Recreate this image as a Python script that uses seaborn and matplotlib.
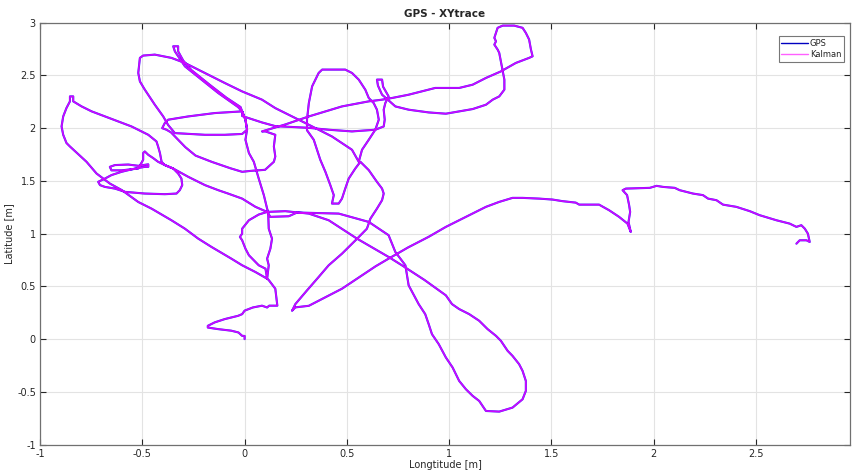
import numpy as np
import pandas as pd
import matplotlib
matplotlib.use("Agg")
import matplotlib.pyplot as plt
import seaborn as sns

# trace (metres), in driving order
lon_start = [0.0, 0.0, -0.012, -0.03, -0.065, -0.13, -0.18, -0.18, -0.146, -0.097, -0.032, -0.012,
             0.0, 0.04, 0.085, 0.11, 0.12, 0.16, 0.15, 0.118, 0.11]
lat_start = [0.0, 0.03, 0.031, 0.063, 0.08, 0.095, 0.11, 0.126, 0.159, 0.19, 0.221, 0.237,
             0.27, 0.30, 0.317, 0.30, 0.317, 0.317, 0.478, 0.56, 0.573]

lon_west = [0.053, -0.012, -0.065, -0.162, -0.227, -0.292, -0.358, -0.455, -0.52, -0.60, -0.659, -0.724,
            -0.773, -0.854, -0.871, -0.887, -0.895, -0.887, -0.871, -0.854, -0.854, -0.838, -0.838,
            -0.797, -0.748, -0.683, -0.618, -0.553, -0.504, -0.471, -0.431, -0.423, -0.414, -0.406,
            -0.39, -0.349, -0.325, -0.309, -0.305, -0.317, -0.333, -0.39, -0.488, -0.585, -0.634, -0.683,
            -0.707, -0.716, -0.683, -0.651, -0.602, -0.536, -0.488, -0.471,
            -0.471, -0.52, -0.569, -0.634, -0.659, -0.651, -0.602, -0.52, -0.496, -0.496, -0.488, -0.471,
            -0.447, -0.423, -0.39, -0.349,
            -0.275, -0.194, -0.129, -0.081, -0.012, 0.053, 0.11]
lat_west = [0.636, 0.70, 0.763, 0.874, 0.953, 1.047, 1.127, 1.237, 1.30, 1.412, 1.475, 1.57,
            1.681, 1.826, 1.859, 1.937, 2.016, 2.111, 2.191, 2.254, 2.301, 2.301, 2.254,
            2.206, 2.159, 2.111, 2.064, 2.016, 1.969, 1.937, 1.874, 1.826, 1.764, 1.681,
            1.65, 1.617, 1.57, 1.522, 1.46, 1.412, 1.38, 1.374, 1.38, 1.396, 1.427, 1.443,
            1.46, 1.491, 1.522, 1.555, 1.586, 1.617, 1.633, 1.633,
            1.657, 1.643, 1.655, 1.65, 1.633, 1.60, 1.60, 1.617, 1.70, 1.764, 1.779, 1.747,
            1.716, 1.681, 1.65, 1.617,
            1.538, 1.46, 1.412, 1.38, 1.332, 1.254, 1.206]

lon_south = [0.199, 0.314, 0.411, 0.55, 0.704, 0.769, 0.88, 0.984, 1.014, 1.049, 1.098, 1.147, 1.188,
             1.229, 1.253, 1.286, 1.31, 1.342, 1.359, 1.375, 1.375, 1.359, 1.31, 1.245, 1.18, 1.147,
             1.115, 1.082, 1.049, 1.017, 0.984, 0.949, 0.916, 0.90, 0.883, 0.851, 0.802, 0.786, 0.737,
             0.704, 0.607, 0.46, 0.256, 0.216, 0.126, 0.11,
             0.069, 0.021, -0.012, -0.012, -0.023, -0.012, 0.004, 0.021, 0.069, 0.102, 0.11,
             0.118, 0.11, 0.126, 0.134, 0.118, 0.115]
lat_south = [1.213, 1.19, 1.127, 0.952, 0.779, 0.70, 0.56, 0.415, 0.332, 0.285, 0.237, 0.174, 0.095,
             0.031, -0.016, -0.111, -0.159, -0.237, -0.301, -0.396, -0.491, -0.57, -0.649, -0.687, -0.681, -0.586,
             -0.538, -0.475, -0.396, -0.269, -0.174, -0.047, 0.047, 0.142, 0.237, 0.332, 0.51, 0.70, 0.826,
             0.985, 1.111, 1.19, 1.20, 1.165, 1.159, 1.206,
             1.181, 1.127, 1.047, 1.0, 0.969, 0.937, 0.858, 0.795, 0.70, 0.668, 0.573,
             0.70, 0.763, 0.858, 0.952, 1.047, 1.206]

lon_north = [0.11, 0.094, 0.069, 0.045, 0.021, 0.004, 0.012, 0.004, -0.012,
             -0.032, -0.129, -0.211, -0.292, -0.341, -0.349, -0.325, -0.325,
             -0.30, -0.26, -0.17, -0.09, -0.02, -0.012,
             -0.146, -0.276, -0.374, -0.39, -0.403, -0.382, -0.36,
             -0.33, -0.29, -0.24, -0.16, -0.07, -0.012, 0.03, 0.10, 0.143, 0.15, 0.143, 0.15, 0.102,
             0.085, 0.199, 0.314, 0.476, 0.607, 0.672, 0.721, 0.802, 0.867, 0.932, 0.984, 1.049,
             1.115, 1.18, 1.253, 1.326, 1.391, 1.408,
             1.40, 1.391, 1.375, 1.359, 1.318, 1.262, 1.237, 1.229, 1.221, 1.229, 1.221, 1.237, 1.245,
             1.253, 1.262, 1.27, 1.27, 1.245, 1.213, 1.18, 1.115, 1.049, 0.984, 0.90, 0.802, 0.737, 0.70,
             0.672, 0.652, 0.647, 0.672, 0.677, 0.704, 0.688, 0.68, 0.685, 0.68,
             0.639, 0.525, 0.411, 0.314, 0.15, 0.085, -0.012, -0.012,
             0.004, 0.012, -0.012, -0.097, -0.194, -0.341, -0.374,
             -0.398, -0.439, -0.488, -0.512, -0.52, -0.512,
             -0.496, -0.439, -0.358, -0.292, -0.194, -0.097, -0.012, 0.085, 0.15, 0.232, 0.314, 0.427,
             0.525, 0.558]
lat_north = [1.237, 1.365, 1.522, 1.681, 1.764, 1.89, 1.985, 2.08, 2.159,
             2.20, 2.333, 2.46, 2.586, 2.728, 2.776, 2.776, 2.728,
             2.64, 2.55, 2.41, 2.29, 2.20, 2.159,
             2.143, 2.111, 2.08, 2.049, 2.0, 1.985, 1.96,
             1.90, 1.82, 1.74, 1.68, 1.62, 1.586, 1.595, 1.605, 1.681, 1.731, 1.826, 1.937, 1.969,
             1.969, 2.035, 2.111, 2.206, 2.254, 2.27, 2.286, 2.317, 2.349, 2.381, 2.381, 2.381,
             2.412, 2.476, 2.538, 2.618, 2.666, 2.681,
             2.745, 2.84, 2.903, 2.951, 2.972, 2.972, 2.951, 2.903, 2.856, 2.823, 2.792, 2.745, 2.713,
             2.633, 2.538, 2.46, 2.365, 2.301, 2.27, 2.222, 2.181, 2.159, 2.137, 2.149, 2.175, 2.206, 2.27,
             2.317, 2.403, 2.46, 2.46, 2.393, 2.301, 2.238, 2.175, 2.08, 2.016,
             1.985, 1.969, 1.985, 2.003, 2.019, 2.054, 2.115, 2.159,
             2.08, 1.985, 1.945, 1.937, 1.937, 1.953, 2.03,
             2.111, 2.222, 2.365, 2.443, 2.523, 2.666,
             2.688, 2.697, 2.666, 2.618, 2.523, 2.428, 2.348, 2.27, 2.19, 2.111, 2.032, 1.921,
             1.795, 1.681]

lon_loop = [0.574, 0.607, 0.639, 0.656, 0.647, 0.631, 0.607, 0.59, 0.558, 0.525, 0.492, 0.379, 0.362,
            0.33, 0.314, 0.305, 0.305, 0.338, 0.37, 0.395, 0.419, 0.436, 0.427, 0.46, 0.476, 0.492,
            0.509, 0.541, 0.566,
            0.607, 0.647, 0.672, 0.68, 0.672, 0.647, 0.615, 0.598, 0.574, 0.55, 0.476, 0.411, 0.362,
            0.305, 0.248, 0.232, 0.248, 0.314, 0.33]
lat_loop = [1.795, 1.89, 1.985, 2.08, 2.175, 2.238, 2.286, 2.365, 2.46, 2.523, 2.555, 2.555, 2.523,
            2.396, 2.238, 2.08, 1.98, 1.89, 1.70, 1.586, 1.46, 1.365, 1.285, 1.285, 1.332, 1.427,
            1.522, 1.617, 1.681,
            1.602, 1.491, 1.427, 1.38, 1.317, 1.237, 1.142, 1.047, 1.0, 0.952, 0.81, 0.70, 0.589,
            0.462, 0.332, 0.269, 0.301, 0.316, 0.332]

lon_east = [0.476, 0.64, 0.704, 0.80, 0.90, 0.984, 1.049, 1.115, 1.18, 1.245, 1.31, 1.359, 1.44, 1.506,
            1.554, 1.587, 1.619, 1.636, 1.733, 1.782, 1.831, 1.872, 1.888, 1.877, 1.885, 1.88, 1.87,
            1.848, 1.864, 1.981, 2.014, 2.046, 2.103, 2.127, 2.192, 2.241, 2.266, 2.307, 2.339, 2.404,
            2.47, 2.518, 2.6, 2.665, 2.698, 2.722, 2.739, 2.754, 2.763, 2.747, 2.714, 2.698]
lat_east = [0.478, 0.69, 0.763, 0.87, 0.97, 1.064, 1.127, 1.19, 1.254, 1.301, 1.339, 1.339, 1.332, 1.323,
            1.308, 1.301, 1.294, 1.275, 1.275, 1.222, 1.159, 1.095, 1.016, 1.111, 1.206, 1.27, 1.365,
            1.412, 1.427, 1.434, 1.453, 1.443, 1.434, 1.412, 1.38, 1.365, 1.332, 1.317, 1.275, 1.254,
            1.213, 1.175, 1.127, 1.095, 1.064, 1.08, 1.047, 1.0, 0.921, 0.937, 0.937, 0.905]

lon = lon_start + lon_west + lon_south + lon_north + lon_loop + lon_east
lat = lat_start + lat_west + lat_south + lat_north + lat_loop + lat_east
trace = pd.DataFrame({"x": lon, "y": lat})

sns.set_style("whitegrid")
plt.rcParams["font.family"] = ["DejaVu Sans"]

fig = plt.figure(figsize=(8.53, 4.72), dpi=100)
ax = fig.add_axes([0.047, 0.058, 0.9495, 0.894])

sns.lineplot(data=trace, x="x", y="y", sort=False, estimator=None, color="#2020ff",
             linewidth=1.5, label="GPS", ax=ax)
sns.lineplot(data=trace, x="x", y="y", sort=False, estimator=None, color="#ff00ff",
             linewidth=1.2, alpha=0.78, label="Kalman", ax=ax)

ax.set_xlim(-1, 2.96)
ax.set_ylim(-1, 3)
ax.set_xticks(np.arange(-1, 3.0, 0.5))
ax.set_yticks(np.arange(-1, 3.01, 0.5))
ax.set_xticklabels(["-1", "-0.5", "0", "0.5", "1", "1.5", "2", "2.5"])
ax.set_yticklabels(["-1", "-0.5", "0", "0.5", "1", "1.5", "2", "2.5", "3"])
ax.grid(True, color="#e3e3e3", linewidth=0.8)
ax.tick_params(direction="in", length=4, labelsize=7, colors="#262626", pad=3,
               top=True, right=True, bottom=True, left=True)
for s in ax.spines.values():
    s.set_color("#707070")
    s.set_linewidth(0.9)

ax.set_title("GPS - XYtrace", fontsize=7.5, fontweight="bold", pad=4)
ax.set_xlabel("Longtitude [m]", fontsize=7, labelpad=1)
ax.set_ylabel("Latitude [m]", fontsize=7, labelpad=2)

leg = ax.legend(loc="upper right", fontsize=6, frameon=True, fancybox=False,
                handlelength=3.2, borderpad=0.35, labelspacing=0.25, handletextpad=0.2,
                bbox_to_anchor=(0.998, 0.978))
leg.get_frame().set_edgecolor("#555555")
leg.get_frame().set_linewidth(0.8)
for h, c in zip(leg.get_lines(), ["#0000c0", "#ff60ff"]):
    h.set_linewidth(1.0)
    h.set_color(c)
    h.set_alpha(1)

fig.savefig("out.png", dpi=100)
